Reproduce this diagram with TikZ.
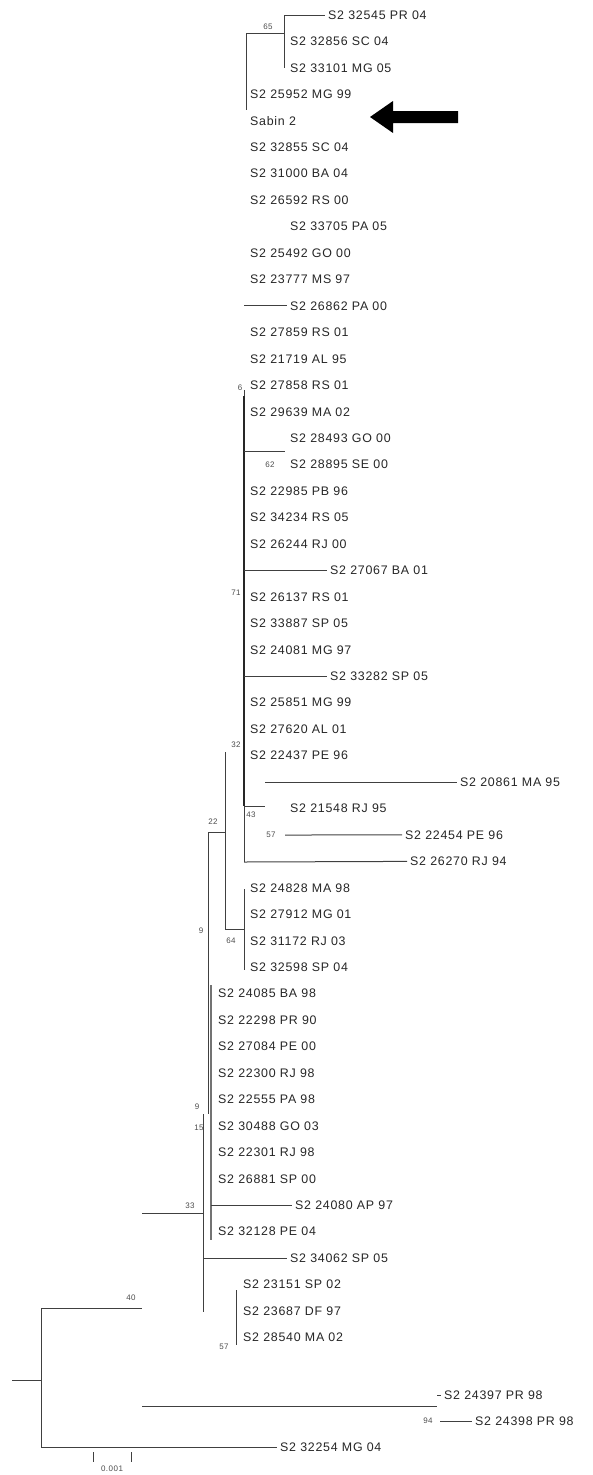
\documentclass[tikz,border=0pt]{standalone}
\usepackage{fontspec}
\setmainfont{Liberation Sans}[LetterSpace=6]
\usetikzlibrary{positioning}

\begin{document}
\begin{tikzpicture}[
    x=1pt, y=-1pt,
    taxon/.style={anchor=west, inner xsep=3pt, inner ysep=0pt,
                  text=black!85, font=\fontsize{12.4}{13}\selectfont},
    boot/.style={inner sep=0pt, text=black!70, font=\fontsize{8}{9}\selectfont},
    branch/.style={draw=black!75, line width=1pt},
    heavy/.style={draw=black!85, line width=2pt},
    polyline/.style={draw=black!55, line width=2.2pt},
  ]
    \useasboundingbox (0,0) rectangle (593,1475);

    % taxa, top to bottom
    \foreach \i/\x/\t in {
        1/325/S2 32545 PR 04, 2/287/S2 32856 SC 04, 3/287/S2 33101 MG 05,
        4/247/S2 25952 MG 99, 5/247/Sabin 2, 6/247/S2 32855 SC 04,
        7/247/S2 31000 BA 04, 8/247/S2 26592 RS 00, 9/287/S2 33705 PA 05,
        10/247/S2 25492 GO 00, 11/247/S2 23777 MS 97, 12/287/S2 26862 PA 00,
        13/247/S2 27859 RS 01, 14/247/S2 21719 AL 95, 15/247/S2 27858 RS 01,
        16/247/S2 29639 MA 02, 17/287/S2 28493 GO 00, 18/287/S2 28895 SE 00,
        19/247/S2 22985 PB 96, 20/247/S2 34234 RS 05, 21/247/S2 26244 RJ 00,
        22/327/S2 27067 BA 01, 23/247/S2 26137 RS 01, 24/247/S2 33887 SP 05,
        25/247/S2 24081 MG 97, 26/327/S2 33282 SP 05, 27/247/S2 25851 MG 99,
        28/247/S2 27620 AL 01, 29/247/S2 22437 PE 96, 30/457/S2 20861 MA 95,
        31/287/S2 21548 RJ 95, 32/402/S2 22454 PE 96, 33/407/S2 26270 RJ 94,
        34/247/S2 24828 MA 98, 35/247/S2 27912 MG 01, 36/247/S2 31172 RJ 03,
        37/247/S2 32598 SP 04, 38/215/S2 24085 BA 98, 39/215/S2 22298 PR 90,
        40/215/S2 27084 PE 00, 41/215/S2 22300 RJ 98, 42/215/S2 22555 PA 98,
        43/215/S2 30488 GO 03, 44/215/S2 22301 RJ 98, 45/215/S2 26881 SP 00,
        46/292/S2 24080 AP 97, 47/215/S2 32128 PE 04, 48/287/S2 34062 SP 05,
        49/240/S2 23151 SP 02, 50/240/S2 23687 DF 97, 51/240/S2 28540 MA 02}
      \node[taxon] (t\i) at (\x,{15+(\i-1)*26.45}) {\t};
    \node[taxon] (t52) at (441,1395) {S2 24397 PR 98};
    \node[taxon] (t53) at (472,1421) {S2 24398 PR 98};
    \node[taxon] (t54) at (277,1447) {S2 32254 MG 04};

    % internal nodes
    \coordinate (a0) at (246,33);
    \coordinate (a1) at (246,110);
    \coordinate (n65) at (284,33);
    \coordinate (b0) at (244,390);
    \coordinate (b1) at (244,862);
    \coordinate (bh0) at (244,396);
    \coordinate (bh1) at (244,806);
    \coordinate (n62) at (285,451);
    \coordinate (n43) at (265,806);
    \coordinate (n57a) at (285,835);
    \coordinate (n32) at (225,752);
    \coordinate (n64) at (225,929);
    \coordinate (c0) at (244,889);
    \coordinate (c1) at (244,970);
    \coordinate (n22) at (208,832);
    \coordinate (n9) at (208,1114);
    \coordinate (p0) at (211,985);
    \coordinate (p1) at (211,1240);
    \coordinate (q0) at (203,1114);
    \coordinate (q1) at (203,1312);
    \coordinate (n33) at (203,1213);
    \coordinate (r0) at (236,1290);
    \coordinate (r1) at (236,1345);
    \coordinate (n40) at (142,1308);
    \coordinate (n94) at (437,1406);
    \coordinate (n94b) at (440,1421);
    \coordinate (rt) at (41,1308);
    \coordinate (rb) at (41,1447);
    \coordinate (root) at (41,1380);
    \coordinate (stub) at (12,1380);

    % branches
    \draw[branch] (a0) -- (n65);
    \draw[branch] (a0) -- (a1);
    \draw[branch] (n65 |- t1) -- (n65 |- t3);
    \draw[branch] (n65 |- t1) -- (t1.west);
    \draw[branch] (b0 |- t12) -- (t12.west);
    \draw[branch] (b0) -- (b1);
    \draw[heavy] (bh0) -- (bh1);
    \draw[branch] (b0 |- n62) -- (n62);
    \draw[branch] (b0 |- t22) -- (t22.west);
    \draw[branch] (b0 |- t26) -- (t26.west);
    \draw[branch] (bh1) -- (n43);
    \draw[branch] (n43 |- t30) -- (t30.west);
    \draw[branch] (n57a) -- (t32.west);
    \draw[branch] (b1) -- (t33.west);
    \draw[branch] (n32) -- (n64);
    \draw[branch] (n64) -- (c0 |- n64);
    \draw[branch] (c0) -- (c1);
    \draw[branch] (n22) -- (n32 |- n22);
    \draw[branch] (n22) -- (n9);
    \draw[polyline] (p0) -- (p1);
    \draw[branch] (p0 |- t46) -- (t46.west);
    \draw[branch] (q0) -- (q1);
    \draw[branch] (q0 |- t48) -- (t48.west);
    \draw[branch] (n40 |- n33) -- (n33);
    \draw[branch] (r0) -- (r1);
    \draw[branch] (rt) -- (n40);
    \draw[branch] (n40 |- n94) -- (n94);
    \draw[branch] (n94 |- t52) -- (t52.west);
    \draw[branch] (n94b) -- (t53.west);
    \draw[branch] (rt) -- (rb);
    \draw[branch] (rb) -- (t54.west);
    \draw[branch] (stub) -- (root);

    % bootstrap values
    \node[boot] (bs65) at (268,27) {65};
    \node[boot] (bs6) at (240,388) {6};
    \node[boot] (bs62) at (270,465) {62};
    \node[boot] (bs71) at (236,593) {71};
    \node[boot] (bs32) at (236,745) {32};
    \node[boot] (bs43) at (251,815) {43};
    \node[boot] (bs57a) at (271,835) {57};
    \node[boot] (bs22) at (213,822) {22};
    \node[boot] (bs64) at (231,941) {64};
    \node[boot] (bs9a) at (201,931) {9};
    \node[boot] (bs9b) at (197,1107) {9};
    \node[boot] (bs15) at (199,1128) {15};
    \node[boot] (bs33) at (190,1206) {33};
    \node[boot] (bs40) at (131,1298) {40};
    \node[boot] (bs57b) at (224,1347) {57};
    \node[boot] (bs94) at (428,1421) {94};

    % arrow pointing at Sabin 2
    \fill[black] (370,117) -- (393,101) -- (393,111) -- (458,111)
      -- (458,123) -- (393,123) -- (393,133) -- cycle;

    % scale bar
    \coordinate (sb0) at (93,1452);
    \coordinate (sb1) at (131,1452);
    \draw[branch, line width=0.8pt] (sb0) -- ++(0,10);
    \draw[branch, line width=0.8pt] (sb1) -- ++(0,10);
    \node[boot] (sbl) at (112,1469) {0.001};
\end{tikzpicture}
\end{document}
